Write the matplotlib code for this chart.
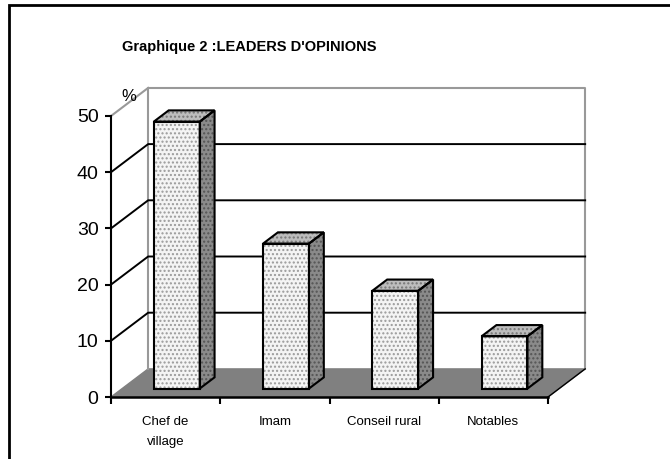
import matplotlib.pyplot as plt
from matplotlib.patches import Polygon, Rectangle

categories = ["Chef de\nvillage", "Imam", "Conseil rural", "Notables"]
values = [47.5, 25.8, 17.4, 9.3]
y_ticks = [0, 10, 20, 30, 40, 50]
title = "Graphique 2 :LEADERS D'OPINIONS"

# oblique depth of the 3D box, in data units
DX, DY = 0.34, 5.0
BAR_LEFT, BAR_RIGHT = 0.29, 0.71
BAR_D0, BAR_D1 = 0.30, 0.70

plt.rcParams["font.family"] = ["Liberation Sans", "DejaVu Sans"]

fig = plt.figure(figsize=(6.7, 4.59), dpi=100)
fig.patches.append(Rectangle((9 / 670, -0.1), 1.2, 454 / 459 + 0.1,
                             transform=fig.transFigure, fill=False,
                             edgecolor="black", linewidth=2))

ax = fig.add_axes([111 / 670, 62 / 459, 437 / 670, 281 / 459])
n = len(categories)
ax.set_xlim(0, n)
ax.set_ylim(0, 50)
for s in ax.spines.values():
    s.set_visible(False)

ymax = y_ticks[-1]
gray = "#808080"
lgray = "#999999"

# floor
ax.add_patch(Polygon([(0, 0), (n, 0), (n + DX, DY), (DX, DY)], closed=True,
                     facecolor=gray, edgecolor=gray, linewidth=1, zorder=1,
                     clip_on=False))
# wall edges
ax.plot([DX, DX, n + DX, n + DX], [DY, ymax + DY, ymax + DY, DY], color=lgray,
        lw=1.5, clip_on=False, zorder=1)
ax.plot([0, DX], [ymax, ymax + DY], color=lgray, lw=1.5, clip_on=False, zorder=1)

# gridlines on side and back walls
for v in y_ticks[1:-1]:
    ax.plot([0, DX, n + DX], [v, v + DY, v + DY], color="black", lw=1.4,
            clip_on=False, zorder=2)

# axes lines
ax.plot([0, 0], [0, ymax], color="black", lw=1.5, clip_on=False, zorder=5)
ax.plot([0, n], [0, 0], color="black", lw=1.8, clip_on=False, zorder=5)
ax.plot([n, n + DX], [0, DY], color="black", lw=1, clip_on=False, zorder=5)

# bars
for i, v in enumerate(values):
    x0 = i + BAR_LEFT + BAR_D0 * DX
    x1 = i + BAR_RIGHT + BAR_D0 * DX
    y0 = BAR_D0 * DY
    ddx = (BAR_D1 - BAR_D0) * DX
    ddy = (BAR_D1 - BAR_D0) * DY
    front = [(x0, y0), (x1, y0), (x1, y0 + v), (x0, y0 + v)]
    side = [(x1, y0), (x1 + ddx, y0 + ddy), (x1 + ddx, y0 + v + ddy), (x1, y0 + v)]
    top = [(x0, y0 + v), (x1, y0 + v), (x1 + ddx, y0 + v + ddy), (x0 + ddx, y0 + v + ddy)]
    for pts, fc, hc in [(front, "#f4f4f4", "#9a9a9a"),
                        (side, "#8a8a8a", "#555555"),
                        (top, "#bdbdbd", "#777777")]:
        ax.add_patch(Polygon(pts, closed=True, facecolor=fc, edgecolor=hc,
                             hatch="....", linewidth=0, zorder=3, clip_on=False))
        ax.add_patch(Polygon(pts, closed=True, facecolor="none",
                             edgecolor="black", linewidth=1.5, zorder=4,
                             clip_on=False))

ax.set_yticks(y_ticks)
ax.set_yticklabels([str(t) for t in y_ticks], fontsize=14)
ax.set_xticks(range(n + 1))
ax.set_xticklabels([])
ax.tick_params(axis="y", length=4, width=1.5, pad=5)
ax.tick_params(axis="x", length=5, width=1.5)
for i, c in enumerate(categories):
    ax.text(i + 0.5, -3.3, c, ha="center", va="top", fontsize=9.5,
            linespacing=1.9)

ax.text(0.04, 1.055, "%", transform=ax.transAxes, fontsize=12, ha="center")
fig.text(122 / 670, 1 - 47 / 459, title, fontsize=10.5, fontweight="bold",
         va="center", ha="left")

plt.savefig("out.png", dpi=100)
